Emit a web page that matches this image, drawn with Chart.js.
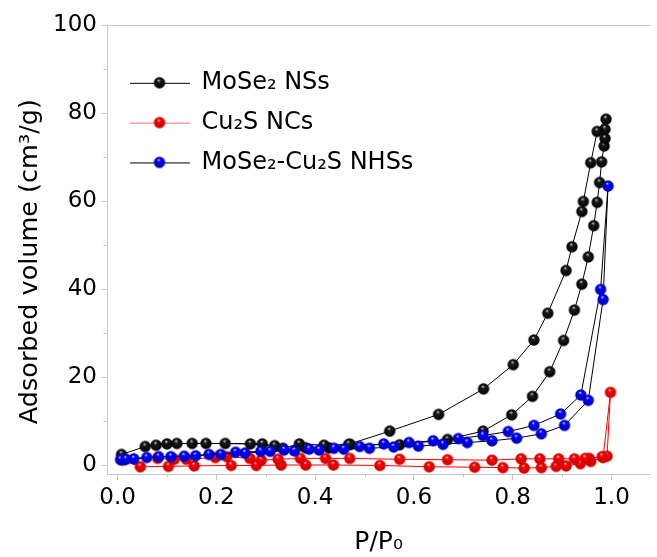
<!DOCTYPE html>
<html>
<head>
<meta charset="utf-8">
<script src="https://cdn.jsdelivr.net/npm/chart.js@4/dist/chart.umd.min.js"></script>
<style>
  html, body { margin: 0; padding: 0; background: #ffffff; }
  canvas { display: block; }
</style>
</head>
<body>
<canvas id="iso" width="657" height="557"></canvas>
<script>
// N2 adsorption–desorption isotherms: each path runs up the adsorption branch, then back down the desorption branch.
const mose2P = [0.008, 0.056, 0.100, 0.151, 0.218, 0.269, 0.318, 0.381, 0.428, 0.471, 0.571, 0.668, 0.740, 0.798,
  0.840, 0.875, 0.903, 0.925, 0.940, 0.953, 0.964, 0.971, 0.976, 0.980, 0.985, 0.987, 0.987, 0.989,
  0.971, 0.958, 0.943, 0.940, 0.920, 0.908, 0.871, 0.843, 0.801, 0.741, 0.650, 0.551, 0.468, 0.418, 0.368,
  0.335, 0.293, 0.179, 0.120, 0.078];
const mose2V = [2.4, 4.2, 4.8, 4.9, 4.9, 4.8, 4.4, 3.9, 3.9, 4.7, 4.6, 5.8, 7.7, 11.4,
  15.6, 21.2, 28.3, 35.2, 41.1, 47.3, 54.4, 59.7, 64.2, 68.9, 72.5, 74.2, 76.3, 78.6,
  75.8, 68.7, 59.9, 57.6, 49.6, 44.2, 34.5, 28.4, 22.8, 17.3, 11.5, 7.7, 4.7, 4.5, 4.8,
  3.8, 4.8, 4.9, 4.9, 4.5];

const cu2sP = [0.011, 0.046, 0.103, 0.155, 0.230, 0.281, 0.331, 0.381, 0.437, 0.531, 0.631, 0.723, 0.780, 0.823,
  0.858, 0.888, 0.908, 0.937, 0.958, 0.983, 0.998,
  0.991, 0.981, 0.955, 0.947, 0.925, 0.893, 0.855, 0.817, 0.758, 0.668, 0.571, 0.470, 0.421, 0.370,
  0.325, 0.291, 0.268, 0.221, 0.198, 0.139, 0.115, 0.081];
const cu2sV = [1.1, -0.4, -0.3, -0.2, -0.1, -0.1, 0.0, 0.0, 0.0, -0.1, -0.4, -0.5, -0.6, -0.7,
  -0.6, -0.3, -0.2, 0.3, 0.8, 1.7, 16.5,
  2.0, 1.9, 1.5, 1.5, 1.4, 1.4, 1.4, 1.4, 1.1, 1.2, 1.3, 1.5, 1.5, 1.5,
  1.3, 1.1, 1.5, 1.9, 1.7, 1.3, 1.3, 1.5];

const hybridP = [0.006, 0.033, 0.083, 0.135, 0.185, 0.258, 0.309, 0.358, 0.408, 0.458, 0.510, 0.559, 0.609, 0.659,
  0.708, 0.758, 0.808, 0.858, 0.905, 0.953, 0.983, 0.993,
  0.978, 0.938, 0.897, 0.843, 0.791, 0.740, 0.690, 0.639, 0.590, 0.539, 0.490, 0.438, 0.388, 0.337,
  0.290, 0.239, 0.209, 0.158, 0.108, 0.059, 0.017];
const hybridV = [1.2, 1.4, 1.9, 2.0, 2.4, 2.7, 3.1, 3.2, 3.4, 3.6, 3.8, 4.1, 4.3, 4.7,
  5.1, 5.5, 6.1, 7.1, 9.0, 14.7, 37.6, 63.4,
  39.9, 15.9, 11.6, 9.0, 7.6, 6.7, 6.0, 5.5, 5.1, 4.8, 4.2, 3.8, 3.6, 3.4,
  3.1, 2.9, 2.4, 2.1, 1.9, 1.7, 1.3];

const seriesNames = ['MoSe\u2082 NSs', 'Cu\u2082S NCs', 'MoSe\u2082-Cu\u2082S NHSs'];
const xMinorTicks = [0.1, 0.3, 0.5, 0.7, 0.9];
const yMinorTicks = [10, 30, 50, 70, 90];

const FONT = 'DejaVu Sans';
const AXIS_GREY = '#c8c8c8';

const toPoints = (xs, ys) => xs.map((x, i) => ({ x, y: ys[i] }));

// Shaded sphere marker.
function sphere(base, dark, hi, r) {
  const s = Math.ceil(r * 2 + 2);
  const c = document.createElement('canvas');
  c.width = c.height = s;
  const g = c.getContext('2d');
  const cx = s / 2, cy = s / 2;
  const grad = g.createRadialGradient(cx - r * 0.15, cy - r * 0.5, 0, cx, cy, r);
  grad.addColorStop(0, hi);
  grad.addColorStop(0.3, base);
  grad.addColorStop(1, dark);
  g.fillStyle = grad;
  g.beginPath();
  g.arc(cx, cy, r, 0, Math.PI * 2);
  g.fill();
  return c;
}

// Legend swatch: a short line with a sphere in the middle.
function swatch(lineColor, ball) {
  const w = 60, h = 16;
  const c = document.createElement('canvas');
  c.width = w; c.height = h;
  const g = c.getContext('2d');
  g.strokeStyle = lineColor;
  g.lineWidth = 1;
  g.beginPath();
  g.moveTo(0, h / 2 + 0.5);
  g.lineTo(w, h / 2 + 0.5);
  g.stroke();
  g.drawImage(ball, (w - ball.width) / 2, (h - ball.height) / 2);
  return c;
}

const R = 5.7;
const blackBall = sphere('#1c1c1c', '#000000', '#eeeeee', R);
const redBall = sphere('#ff0000', '#c80000', '#ffffff', R);
const blueBall = sphere('#0000ff', '#0000b4', '#ffffff', R);

const lineColors = ['#000000', '#ff0000', '#000000'];
const balls = [blackBall, redBall, blueBall];
const swatches = [swatch('#000000', blackBall), swatch('#ff6a6a', redBall), swatch('#000000', blueBall)];

const minorTicks = {
  id: 'minorTicks',
  beforeDatasetsDraw(chart) {
    const { ctx, scales: { x, y } } = chart;
    ctx.save();
    ctx.strokeStyle = AXIS_GREY;
    ctx.lineWidth = 1;
    ctx.beginPath();
    xMinorTicks.forEach(v => {
      const px = Math.round(x.getPixelForValue(v)) + 0.5;
      ctx.moveTo(px, y.bottom);
      ctx.lineTo(px, y.bottom + 3.5);
    });
    yMinorTicks.forEach(v => {
      const py = Math.round(y.getPixelForValue(v)) + 0.5;
      ctx.moveTo(x.left, py);
      ctx.lineTo(x.left - 3.5, py);
    });
    ctx.stroke();
    ctx.restore();
  }
};

// Places the legend block inside the plot, upper left.
const legendPlacer = {
  id: 'legendPlacer',
  afterLayout(chart) {
    const lg = chart.legend;
    if (!lg) return;
    lg.left = chart.chartArea.left + 6.7;
    lg.top = chart.chartArea.top + 30;
  }
};

new Chart(document.getElementById('iso'), {
  type: 'scatter',
  data: {
    datasets: [
      { label: seriesNames[0], data: toPoints(mose2P, mose2V), order: 2 },
      { label: seriesNames[1], data: toPoints(cu2sP, cu2sV), order: 1 },
      { label: seriesNames[2], data: toPoints(hybridP, hybridV), order: 0 }
    ].map((d, i) => Object.assign(d, {
      showLine: true,
      borderColor: lineColors[i],
      backgroundColor: lineColors[i],
      borderWidth: 1,
      tension: 0,
      pointStyle: balls[i],
      pointRadius: R,
      pointHoverRadius: R
    }))
  },
  options: {
    responsive: false,
    animation: false,
    devicePixelRatio: 1,
    layout: { padding: { left: 0, right: 0, top: 25, bottom: 0 } },
    plugins: {
      tooltip: { enabled: false },
      legend: {
        position: 'chartArea',
        align: 'start',
        labels: {
          usePointStyle: true,
          pointStyleWidth: 60,
          padding: 15.8,
          color: '#000000',
          font: { family: FONT, size: 24 },
          generateLabels: (chart) => chart.data.datasets.map((d, i) => ({
            text: d.label,
            pointStyle: swatches[i],
            fillStyle: 'transparent',
            strokeStyle: 'transparent',
            lineWidth: 0,
            fontColor: '#000000',
            datasetIndex: i,
            hidden: false
          }))
        }
      }
    },
    scales: {
      x: {
        type: 'linear',
        position: 'bottom',
        min: -0.0214,
        max: 1.0786,
        afterFit: (s) => { s.height = 83; },
        grid: { drawOnChartArea: false, drawTicks: true, tickLength: 6, color: AXIS_GREY },
        border: { display: true, color: AXIS_GREY, width: 1 },
        ticks: {
          stepSize: 0.2,
          includeBounds: false,
          padding: 4,
          color: '#000000',
          font: { family: FONT, size: 23 },
          maxRotation: 0,
          callback: (v) => v.toFixed(1)
        },
        title: {
          display: true,
          text: 'P/P\u2080',
          color: '#000000',
          font: { family: FONT, size: 25 },
          padding: { top: 0, bottom: 0 }
        }
      },
      xTop: {
        type: 'linear',
        position: 'top',
        min: -0.0214,
        max: 1.0786,
        afterFit: (s) => { s.height = 0; },
        grid: { drawOnChartArea: false, drawTicks: false },
        border: { display: true, color: AXIS_GREY, width: 1 },
        ticks: { display: false }
      },
      y: {
        type: 'linear',
        position: 'left',
        min: -2.045,
        max: 100,
        afterFit: (s) => { s.width = 107; },
        grid: { drawOnChartArea: false, drawTicks: true, tickLength: 6, color: AXIS_GREY },
        border: { display: true, color: AXIS_GREY, width: 1 },
        ticks: {
          stepSize: 20,
          includeBounds: false,
          padding: 4,
          color: '#000000',
          font: { family: FONT, size: 23 }
        },
        title: {
          display: true,
          text: 'Adsorbed volume (cm\u00b3/g)   ',
          color: '#000000',
          font: { family: FONT, size: 25.5 },
          padding: { top: 15, bottom: 0 }
        }
      }
    }
  },
  plugins: [minorTicks, legendPlacer]
});
</script>
</body>
</html>
